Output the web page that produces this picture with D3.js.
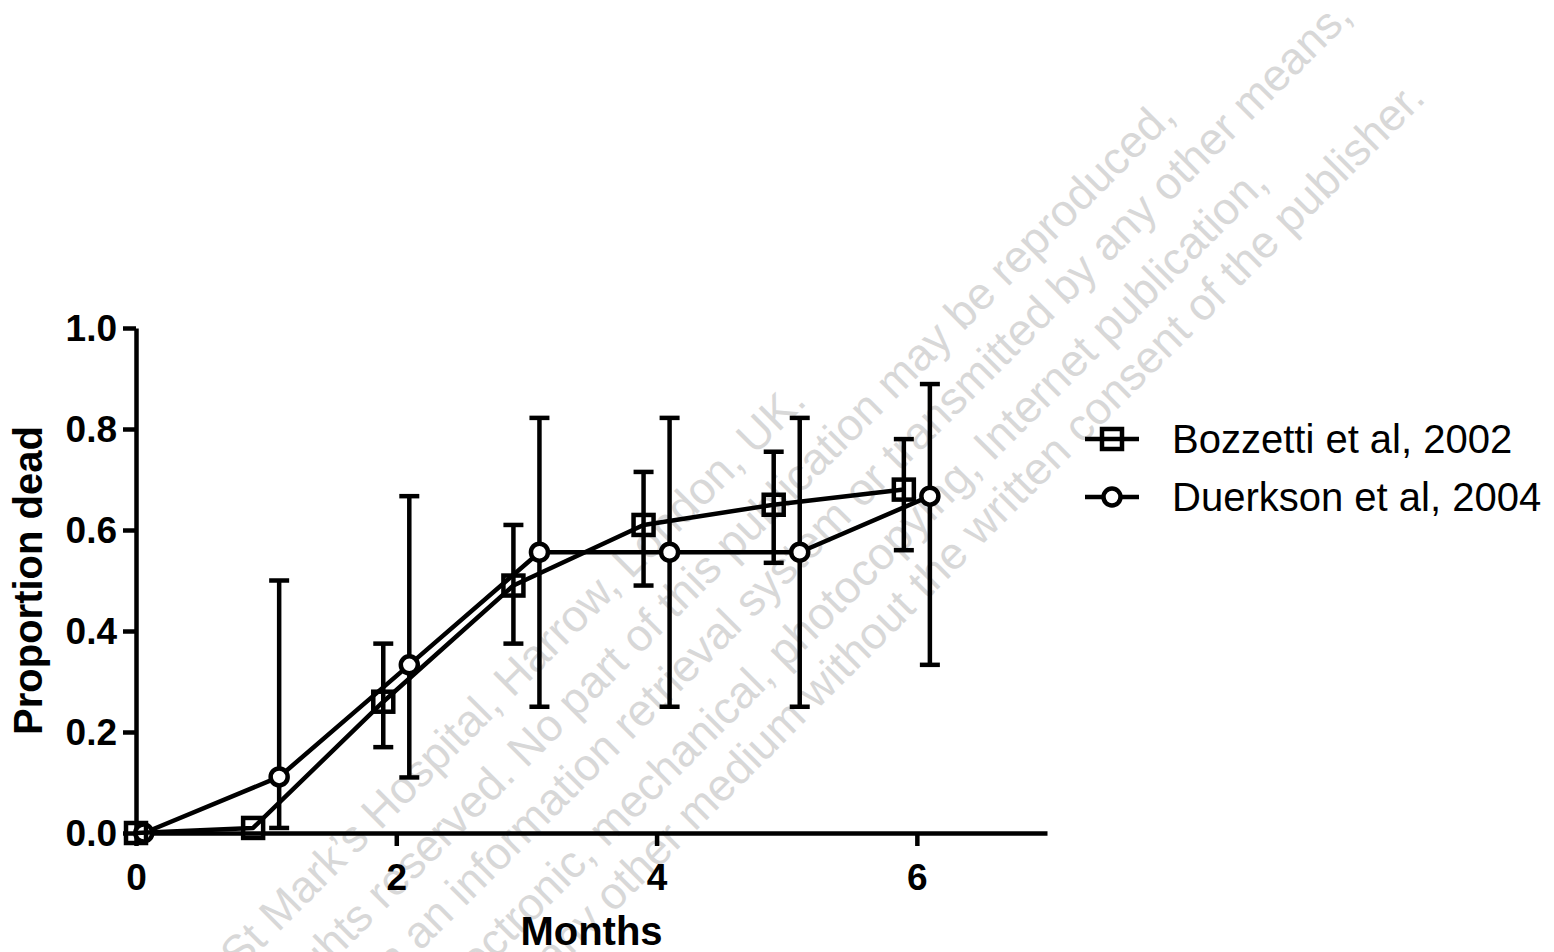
<!DOCTYPE html>
<html>
<head>
<meta charset="utf-8">
<script src="https://cdn.jsdelivr.net/npm/d3@7"></script>
<style>
  body { margin: 0; background: #fff; }
  svg { display: block; font-family: "Liberation Sans", Arial, sans-serif; }
</style>
</head>
<body>
<script>
// values
const xTicks = [0, 2, 4, 6];
const yTicks = [0, 0.2, 0.4, 0.6, 0.8, 1.0];

const bozzettiMonths = [0, 0.9, 1.9, 2.9, 3.9, 4.9, 5.9];
const bozzettiProp = [0, 0.01, 0.26, 0.49, 0.61, 0.65, 0.68];
const bozzettiLow = [0, 0.01, 0.17, 0.375, 0.49, 0.535, 0.56];
const bozzettiHigh = [0, 0.01, 0.375, 0.61, 0.715, 0.755, 0.78];

const duerksonMonths = [0.06, 1.1, 2.1, 3.1, 4.1, 5.1, 6.1];
const duerksonProp = [0, 0.111, 0.333, 0.556, 0.556, 0.556, 0.667];
const duerksonLow = [0, 0.01, 0.11, 0.25, 0.25, 0.25, 0.333];
const duerksonHigh = [0, 0.5, 0.667, 0.822, 0.822, 0.822, 0.889];

const seriesNames = ["Bozzetti et al, 2002", "Duerkson et al, 2004"];

const watermarkLines = [
  "St Mark\u2019s Hospital, Harrow, London, UK.",
  "All rights reserved. No part of this publication may be reproduced,",
  "stored in an information retrieval system or transmitted by any other means,",
  "electronic, mechanical, photocopying, Internet publication,",
  "or any other medium without the written consent of the publisher.",
];

const width = 1554;
const height = 952;
const sw = 4.5;

const svg = d3.select("body").append("svg")
  .attr("width", width)
  .attr("height", height);

// faint diagonal watermark, sits behind the chart
const wmEnds = [[808, 403], [1177, 118], [1354, 18], [1270, 185], [1427, 100]];
svg.append("g")
  .selectAll("text")
  .data(watermarkLines)
  .join("text")
  .attr("transform", (d, i) => `translate(${wmEnds[i][0]},${wmEnds[i][1]}) rotate(-45)`)
  .attr("text-anchor", "end")
  .attr("font-size", "45px")
  .attr("fill", "#d8d8d8")
  .text((d) => d);

const x = d3.scaleLinear().domain([0, 7]).range([136, 1047]);
const y = d3.scaleLinear().domain([0, 1]).range([833, 328]);

// y axis
const yAxis = svg.append("g")
  .attr("transform", `translate(${x(0)},0)`)
  .call(d3.axisLeft(y).tickValues(yTicks).tickFormat(d3.format(".1f")).tickSize(13).tickSizeOuter(0).tickPadding(6));
yAxis.select(".domain").attr("stroke", "#000").attr("stroke-width", sw);
yAxis.selectAll(".tick line").attr("stroke", "#000").attr("stroke-width", sw);
yAxis.selectAll(".tick text")
  .attr("font-family", "Liberation Sans, Arial, sans-serif")
  .attr("font-size", "37px")
  .attr("font-weight", "bold")
  .attr("fill", "#000")
  .attr("dy", "0.35em");

// x axis
const xAxis = svg.append("g")
  .attr("transform", `translate(0,${y(0)})`)
  .call(d3.axisBottom(x).tickValues(xTicks).tickFormat(d3.format("d")).tickSize(13).tickSizeOuter(0));
xAxis.select(".domain").attr("stroke", "#000").attr("stroke-width", sw);
xAxis.selectAll(".tick line").attr("stroke", "#000").attr("stroke-width", sw);
xAxis.selectAll(".tick text")
  .attr("font-family", "Liberation Sans, Arial, sans-serif")
  .attr("font-size", "37px")
  .attr("font-weight", "bold")
  .attr("fill", "#000")
  .attr("y", 57)
  .attr("dy", null);

svg.append("text")
  .attr("x", (x(0) + x(7)) / 2)
  .attr("y", 945)
  .attr("text-anchor", "middle")
  .attr("font-size", "40px")
  .attr("font-weight", "bold")
  .text("Months");

svg.append("text")
  .attr("transform", `translate(42,${(y(0) + y(1)) / 2}) rotate(-90)`)
  .attr("text-anchor", "middle")
  .attr("font-size", "40px")
  .attr("font-weight", "bold")
  .text("Proportion dead");

function toRows(months, prop, low, high) {
  return months.map((m, i) => ({ m: m, p: prop[i], lo: low[i], hi: high[i] }));
}
const bozzetti = toRows(bozzettiMonths, bozzettiProp, bozzettiLow, bozzettiHigh);
const duerkson = toRows(duerksonMonths, duerksonProp, duerksonLow, duerksonHigh);

const line = d3.line().x((d) => x(d.m)).y((d) => y(d.p));
const cap = 10;

function drawSeries(rows, marker) {
  const g = svg.append("g");
  g.append("path")
    .datum(rows)
    .attr("d", line)
    .attr("fill", "none")
    .attr("stroke", "#000")
    .attr("stroke-width", sw)
    .attr("stroke-linejoin", "round");

  const err = g.selectAll("g.err")
    .data(rows.filter((d) => d.hi > d.lo))
    .join("g")
    .attr("class", "err")
    .attr("stroke", "#000")
    .attr("stroke-width", sw);
  err.append("line")
    .attr("x1", (d) => x(d.m)).attr("x2", (d) => x(d.m))
    .attr("y1", (d) => y(d.lo)).attr("y2", (d) => y(d.hi));
  err.append("line")
    .attr("x1", (d) => x(d.m) - cap).attr("x2", (d) => x(d.m) + cap)
    .attr("y1", (d) => y(d.hi)).attr("y2", (d) => y(d.hi));
  err.append("line")
    .attr("x1", (d) => x(d.m) - cap).attr("x2", (d) => x(d.m) + cap)
    .attr("y1", (d) => y(d.lo)).attr("y2", (d) => y(d.lo));

  rows.forEach((d) => marker(g, x(d.m), y(d.p)));
}

function squareMarker(g, cx, cy) {
  g.append("rect")
    .attr("x", cx - 10).attr("y", cy - 10)
    .attr("width", 20).attr("height", 20)
    .attr("fill", "none")
    .attr("stroke", "#000")
    .attr("stroke-width", sw);
}

function circleMarker(g, cx, cy) {
  g.append("circle")
    .attr("cx", cx).attr("cy", cy)
    .attr("r", 8.5)
    .attr("fill", "#fff")
    .attr("stroke", "#000")
    .attr("stroke-width", sw);
}

drawSeries(duerkson, circleMarker);
drawSeries(bozzetti, squareMarker);

// legend
const legendRows = [
  { name: seriesNames[0], marker: squareMarker, cy: 439 },
  { name: seriesNames[1], marker: circleMarker, cy: 497 },
];
legendRows.forEach((r) => {
  const g = svg.append("g");
  g.append("line")
    .attr("x1", 1085).attr("x2", 1139)
    .attr("y1", r.cy).attr("y2", r.cy)
    .attr("stroke", "#000")
    .attr("stroke-width", sw);
  r.marker(g, 1112, r.cy);
  g.append("text")
    .attr("x", 1172)
    .attr("y", r.cy + 14)
    .attr("font-size", "40px")
    .text(r.name);
});
</script>
</body>
</html>
